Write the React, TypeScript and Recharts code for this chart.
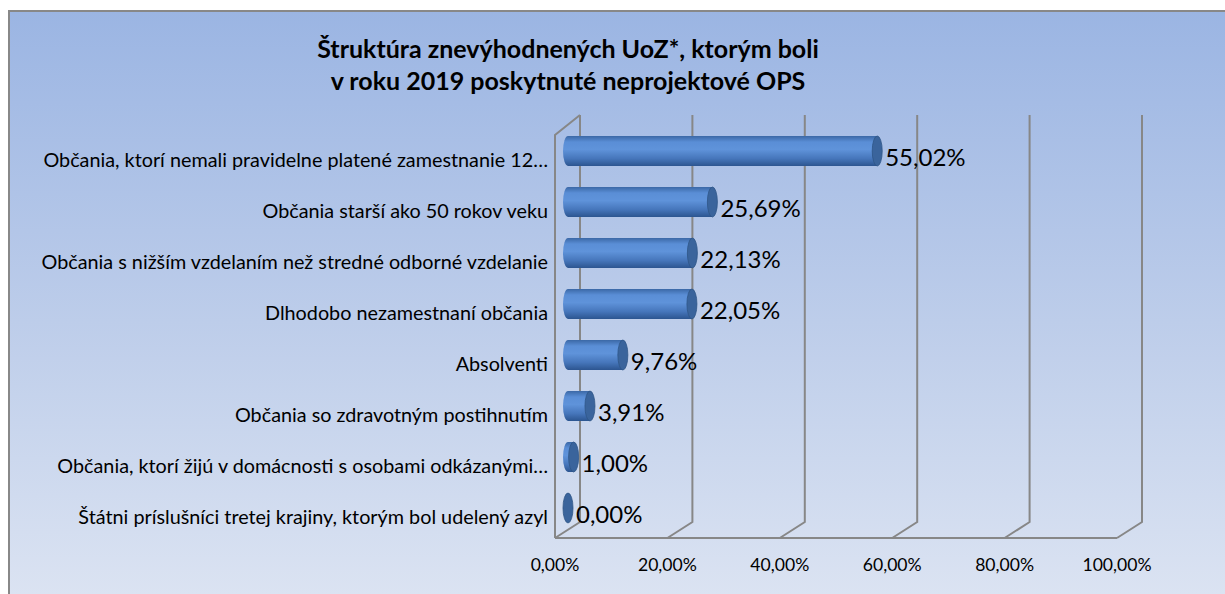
import { BarChart, Bar, XAxis, YAxis, CartesianGrid, LabelList } from 'recharts';

// categories, top to bottom
const categories = [
  'Občania, ktorí nemali pravidelne platené zamestnanie 12…',
  'Občania starší ako 50 rokov veku',
  'Občania s nižším vzdelaním než stredné odborné vzdelanie',
  'Dlhodobo nezamestnaní občania',
  'Absolventi',
  'Občania so zdravotným postihnutím',
  'Občania, ktorí žijú v domácnosti s osobami odkázanými…',
  'Štátni príslušníci tretej krajiny, ktorým bol udelený azyl',
];

const shares = [0.5502, 0.2569, 0.2213, 0.2205, 0.0976, 0.0391, 0.01, 0.0];

const xTicks = [0, 0.2, 0.4, 0.6, 0.8, 1.0];

const data = categories.map((name, i) => ({ name, value: shares[i] }));

const W = 1225;
const H = 594;
const MARGIN = { top: 125, right: 100, bottom: 31, left: 0 };
const Y_AXIS_W = 563;
const X_AXIS_H = 30;
const PLOT_BOTTOM = H - MARGIN.bottom - X_AXIS_H;

const FONT = 'Lato, "Open Sans", sans-serif';
const GRID = '#878787';

// 3D offsets of the chart walls
const FRONT_DX = -8;
const BACK_DX = 17;

const pct = (v: number) => (v * 100).toFixed(2).replace('.', ',') + '%';

const GridLine = (props: any) => {
  const { x1, y1, y2, x, width } = props;
  const fx = x1 + FRONT_DX;
  const bx = x1 + BACK_DX;
  const isLeft = Math.abs(x1 - x) < 0.5;
  return (
    <g key={props.key}>
      <polyline
        points={`${fx},${y2 + 5} ${bx},${y2 - 11} ${bx},${y1 - 10}`}
        fill="none"
        stroke={GRID}
        strokeWidth={2}
      />
      {isLeft && (
        <>
          <polyline
            points={`${fx},${y2 + 5} ${fx},${y1 + 10} ${bx},${y1 - 10}`}
            fill="none"
            stroke={GRID}
            strokeWidth={2}
          />
          <line x1={fx} y1={y2 + 5} x2={fx + width} y2={y2 + 5} stroke={GRID} strokeWidth={2} />
        </>
      )}
    </g>
  );
};

const Cylinder = (props: any) => {
  const { x, y, width, height } = props;
  const rx = 5;
  const ry = height / 2;
  const cy = y + ry;
  const x0 = x + rx;
  const x1 = x + rx + Math.max(width, 0);
  return (
    <g>
      {width > 0.5 && (
        <path
          d={`M${x0},${y} L${x1},${y} L${x1},${y + height} L${x0},${y + height} A${rx},${ry} 0 0 1 ${x0},${y} Z`}
          fill="url(#cylBody)"
        />
      )}
      <ellipse cx={x1} cy={cy} rx={rx} ry={ry} fill="#3a649c" stroke="#2f5687" strokeWidth={0.8} />
    </g>
  );
};

const CategoryTick = (props: any) => {
  const { x, y, payload } = props;
  return (
    <text x={x - 15} y={y} dy={16} textAnchor="end" fill="#000" fontSize={19.8} fontFamily={FONT}>
      {payload.value}
    </text>
  );
};

const ValueTick = (props: any) => {
  const { x, payload } = props;
  return (
    <text x={x + FRONT_DX} y={PLOT_BOTTOM + 38} textAnchor="middle" fill="#000" fontSize={17.6} fontFamily={FONT}>
      {pct(payload.value)}
    </text>
  );
};

const ValueLabel = (props: any) => {
  const { x, y, width, height, value } = props;
  return (
    <text x={x + width + 13} y={y + height / 2} dy={15} fill="#000" fontSize={24} fontFamily={FONT}>
      {pct(value)}
    </text>
  );
};

export default function App() {
  return (
    <div style={{ position: 'absolute', left: 0, top: 0, width: W, height: H, overflow: 'hidden', background: '#fff' }}>
      <div
        style={{
          position: 'absolute',
          left: 8,
          top: 10,
          width: 1240,
          height: 620,
          border: '2px solid #888',
          background: 'linear-gradient(180deg, #9bb5e3 0%, #bdcdea 50%, #dfe6f3 100%)',
        }}
      />
      <div
        style={{
          position: 'absolute',
          left: 218,
          top: 32,
          width: 700,
          textAlign: 'center',
          fontFamily: FONT,
          fontWeight: 700,
          fontSize: 25,
          lineHeight: '32px',
          color: '#000',
        }}
      >
        Štruktúra znevýhodnených UoZ*, ktorým boli
        <br />
        v roku 2019 poskytnuté neprojektové OPS
      </div>
      <div style={{ position: 'absolute', left: 0, top: 0 }}>
        <BarChart width={W} height={H} data={data} layout="vertical" margin={MARGIN} barSize={30}>
          <defs>
            <linearGradient id="cylBody" x1="0" y1="0" x2="0" y2="1">
              <stop offset="0%" stopColor="#3b68a6" />
              <stop offset="20%" stopColor="#5a8ed6" />
              <stop offset="45%" stopColor="#5f93da" />
              <stop offset="75%" stopColor="#4676bb" />
              <stop offset="100%" stopColor="#2c5590" />
            </linearGradient>
          </defs>
          <CartesianGrid horizontal={false} vertical={GridLine} />
          <XAxis
            type="number"
            domain={[0, 1]}
            ticks={xTicks}
            axisLine={false}
            tickLine={false}
            height={X_AXIS_H}
            tick={ValueTick}
            interval={0}
          />
          <YAxis
            type="category"
            dataKey="name"
            width={Y_AXIS_W}
            axisLine={false}
            tickLine={false}
            tickSize={0}
            tickMargin={0}
            tick={CategoryTick}
            interval={0}
          />
          <Bar dataKey="value" shape={Cylinder} isAnimationActive={false}>
            <LabelList dataKey="value" content={ValueLabel} />
          </Bar>
        </BarChart>
      </div>
    </div>
  );
}
